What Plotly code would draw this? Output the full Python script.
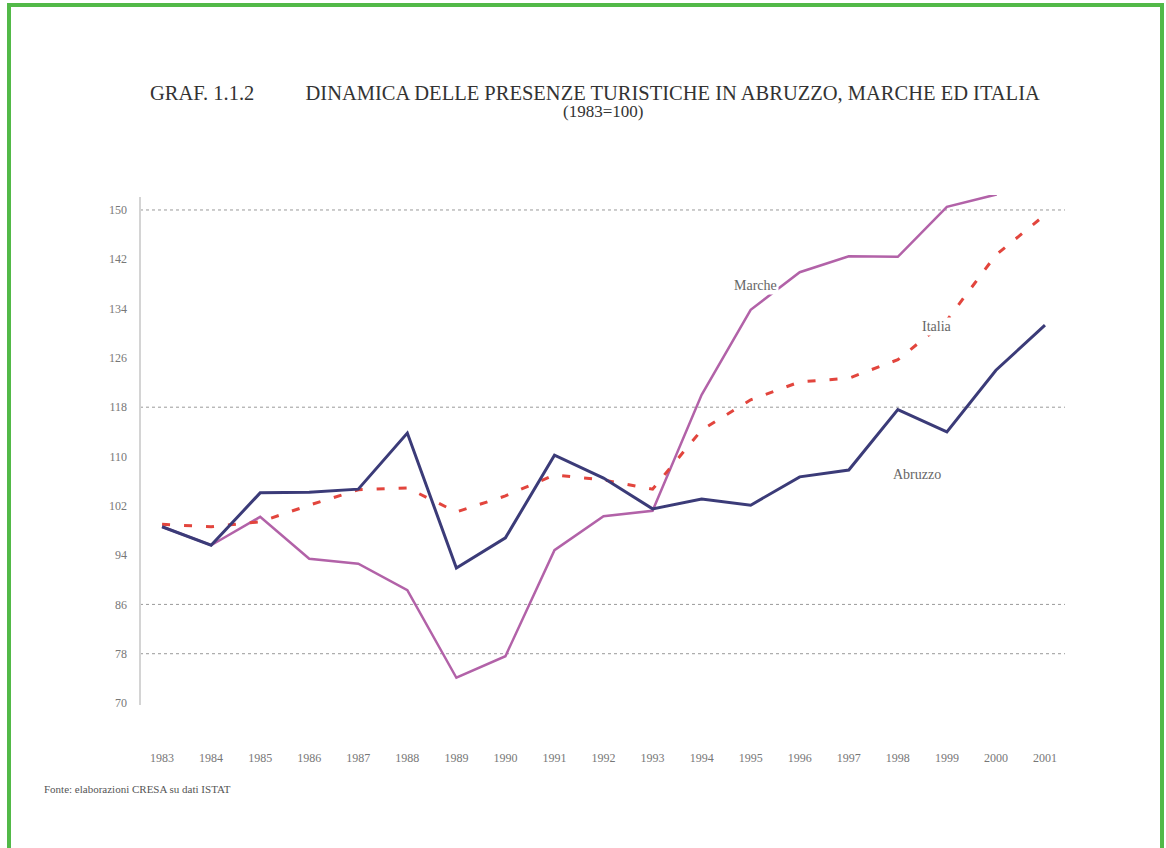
import plotly.graph_objects as go

years = list(range(1983, 2002))
abruzzo = [98.6, 95.6, 104.1, 104.2, 104.7, 113.8, 91.9, 96.8, 110.2, 106.5,
           101.5, 103.1, 102.1, 106.7, 107.8, 117.6, 114.0, 124.0, 131.3]
marche = [98.6, 95.6, 100.2, 93.4, 92.6, 88.3, 74.1, 77.6, 94.8, 100.3,
          101.2, 120.0, 133.8, 139.9, 142.5, 142.4, 150.5, 152.5, 170.0]
italia = [99.0, 98.6, 99.4, 102.1, 104.6, 104.9, 101.0, 103.6, 107.0, 106.2,
          104.7, 114.3, 119.2, 122.1, 122.7, 125.7, 132.1, 142.7, 149.2]
ytick_vals = [70, 78, 86, 94, 102, 110, 118, 126, 134, 142, 150]
grid_vals = [150, 118, 86, 78]

W, H = 1166, 848
L, R, T, B = 140, 1070, 195, 713

def px(x):
    return (x - L) / (R - L)

def py(y):
    return (B - y) / (B - T)

fig = go.Figure()
fig.add_trace(go.Scatter(x=years, y=marche, mode="lines", name="Marche",
                         line=dict(color="#b262a8", width=2.5)))
fig.add_trace(go.Scatter(x=years, y=italia, mode="lines", name="Italia",
                         line=dict(color="#e2453d", width=3, dash="8px,14px")))
fig.add_trace(go.Scatter(x=years, y=abruzzo, mode="lines", name="Abruzzo",
                         line=dict(color="#3b3b78", width=3)))

shapes = []
for g in grid_vals:
    shapes.append(dict(type="line", xref="paper", yref="y", x0=0, x1=px(1065),
                       y0=g, y1=g, line=dict(color="#9a9a9a", width=1, dash="3px,3px"),
                       layer="below"))
# y axis line
shapes.append(dict(type="line", xref="paper", yref="paper", x0=0, x1=0,
                   y0=py(705), y1=py(197), line=dict(color="#d4d4d4", width=2)))
# green frame
green = "#52b948"
shapes.append(dict(type="line", xref="paper", yref="paper", x0=px(9), x1=px(9),
                   y0=py(4), y1=py(860), line=dict(color=green, width=4)))
shapes.append(dict(type="line", xref="paper", yref="paper", x0=px(7), x1=px(1164),
                   y0=py(5), y1=py(5), line=dict(color=green, width=4)))
shapes.append(dict(type="line", xref="paper", yref="paper", x0=px(1162), x1=px(1162),
                   y0=py(4), y1=py(860), line=dict(color=green, width=4)))

serif = "Liberation Serif"
nb = "&nbsp;"
annotations = [
    dict(text="GRAF. 1.1.2" + nb * 10 + "DINAMICA DELLE PRESENZE TURISTICHE IN ABRUZZO, MARCHE ED ITALIA",
         xref="paper", yref="paper", x=px(595), y=py(93), yanchor="middle", showarrow=False,
         font=dict(family=serif, size=20.5, color="#333333")),
    dict(text="(1983=100)", xref="paper", yref="paper", x=px(603), y=py(111),
         yanchor="middle", showarrow=False,
         font=dict(family=serif, size=17, color="#333333")),
    dict(text="Fonte: elaborazioni CRESA su dati ISTAT", xref="paper", yref="paper",
         x=px(42), y=py(789), xanchor="left", yanchor="middle", showarrow=False,
         font=dict(family=serif, size=11, color="#555555")),
    dict(text="Marche", x=1995.1, y=137.8, showarrow=False, bgcolor="white",
         font=dict(family=serif, size=14, color="#666666")),
    dict(text="Italia", x=1998.8, y=131.1, showarrow=False, bgcolor="white",
         font=dict(family=serif, size=14, color="#666666")),
    dict(text="Abruzzo", x=1998.4, y=107.1, showarrow=False, bgcolor="white",
         font=dict(family=serif, size=14, color="#666666")),
]

fig.update_layout(
    width=W, height=H,
    margin=dict(l=L, r=W - R, t=T, b=H - B),
    paper_bgcolor="white", plot_bgcolor="white",
    showlegend=False,
    shapes=shapes,
    annotations=annotations,
    xaxis=dict(range=[1982.55, 2001.51], tickvals=years, ticktext=[str(y) for y in years],
               showgrid=False, zeroline=False, showline=False, ticks="",
               ticklabelstandoff=36,
               tickfont=dict(family=serif, size=12, color="#777777")),
    yaxis=dict(range=[68.38, 152.43], tickvals=ytick_vals,
               ticktext=[str(v) for v in ytick_vals],
               showgrid=False, zeroline=False, showline=False, ticks="",
               ticklabelstandoff=12,
               tickfont=dict(family=serif, size=12, color="#777777")),
)

fig.write_html("out.html", config={"displayModeBar": False},
               post_script="document.body.style.margin='0';document.body.style.overflow='hidden';")
